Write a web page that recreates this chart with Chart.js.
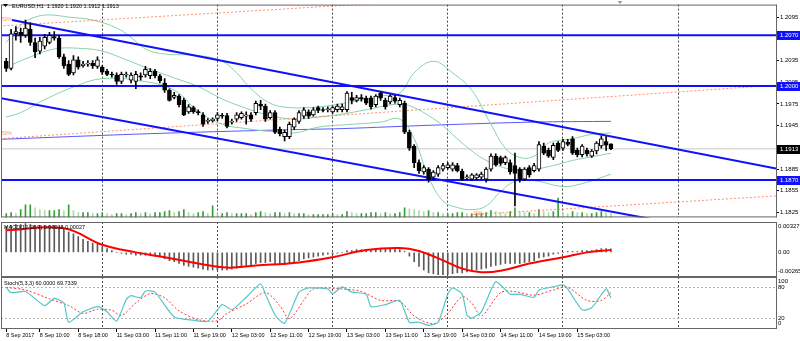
<!DOCTYPE html>
<html lang="en">
<head>
<meta charset="UTF-8">
<title>EURUSD,H1</title>
<script src="https://cdn.jsdelivr.net/npm/chart.js@4"></script>
<style>
  html, body { margin: 0; padding: 0; background: #fff; }
  #wrap { position: relative; width: 800px; height: 341px; overflow: hidden; }
  canvas { position: absolute; left: 0; }
</style>
</head>
<body>
<div id="wrap">
  <canvas id="mainChart" width="800" height="222" style="top:0"></canvas>
  <canvas id="macdChart" width="800" height="55" style="top:222px"></canvas>
  <canvas id="stochChart" width="800" height="64" style="top:277px"></canvas>
</div>
<script>
// x axis is the bar index: bar 0 = 8 Sep 03:00, one bar per hour, empty space kept on the right
const X_MIN = -1.1, X_MAX = 160.4;

const open = [
  1.2034,1.2024,1.2072,1.2074,1.2070,1.2078,1.2060,1.2048,1.2055,1.2060,
  1.2068,1.2066,1.2040,1.2030,1.2018,1.2036,1.2028,1.2030,1.2031,1.2027,
  1.2026,1.2020,1.2016,1.2015,1.2006,1.2015,1.2008,1.2006,1.2014,1.2015,
  1.2014,1.2020,1.2014,1.2004,1.1994,1.1984,1.1986,1.1980,1.1964,1.1970,
  1.1964,1.1960,1.1951,1.1952,1.1955,1.1959,1.1959,1.1950,1.1954,1.1956,
  1.1958,1.1960,1.1963,1.1975,1.1972,1.1956,1.1963,1.1940,1.1930,1.1930,
  1.1943,1.1951,1.1958,1.1964,1.1960,1.1970,1.1967,1.1967,1.1964,1.1967,
  1.1967,1.1967,1.1984,1.1980,1.1984,1.1983,1.1983,1.1974,1.1990,1.1980,
  1.1978,1.1984,1.1974,1.1976,1.1936,1.1917,1.1894,1.1881,1.1885,1.1874,
  1.1878,1.1885,1.1887,1.1885,1.1890,1.1882,1.1873,1.1871,1.1873,1.1874,
  1.1871,1.1885,1.1903,1.1901,1.1894,1.1894,1.1890,1.1885,1.1871,1.1887,
  1.1883,1.1885,1.1917,1.1911,1.1901,1.1921,1.1914,1.1922,1.1927,1.1911,
  1.1905,1.1911,1.1903,1.1910,1.1917,1.1923,1.1920
];
const high = [
  1.2038,1.2078,1.2082,1.2080,1.2091,1.2087,1.2066,1.2067,1.2071,1.2074,
  1.2075,1.2070,1.2044,1.2035,1.2042,1.2040,1.2034,1.2035,1.2035,1.2040,
  1.2028,1.2023,1.2019,1.2018,1.2019,1.2019,1.2018,1.2020,1.2018,1.2027,
  1.2024,1.2023,1.2016,1.2010,1.1996,1.1991,1.1988,1.1983,1.1974,1.1972,
  1.1967,1.1963,1.1955,1.1956,1.1963,1.1962,1.1962,1.1954,1.1963,1.1964,
  1.1964,1.1963,1.1979,1.1980,1.1975,1.1966,1.1966,1.1943,1.1939,1.1950,
  1.1956,1.1966,1.1970,1.1967,1.1970,1.1972,1.1970,1.1971,1.1972,1.1975,
  1.1975,1.1992,1.1991,1.1987,1.1988,1.1986,1.1986,1.1988,1.1992,1.1983,
  1.1988,1.1987,1.1983,1.1979,1.1939,1.1919,1.1898,1.1890,1.1887,1.1883,
  1.1890,1.1893,1.1894,1.1894,1.1893,1.1885,1.1877,1.1879,1.1879,1.1881,
  1.1887,1.1906,1.1906,1.1903,1.1903,1.1898,1.1907,1.1887,1.1887,1.1890,
  1.1893,1.1923,1.1921,1.1914,1.1921,1.1923,1.1926,1.1926,1.1930,1.1914,
  1.1919,1.1914,1.1912,1.1923,1.1931,1.1930,1.1920
];
const low = [
  1.2020,1.2022,1.2063,1.2060,1.2067,1.2056,1.2039,1.2044,1.2051,1.2058,
  1.2063,1.2038,1.2024,1.2014,1.2015,1.2023,1.2026,1.2027,1.2024,1.2024,
  1.2016,1.2014,1.2012,1.2002,1.2003,1.2012,1.2004,1.1996,1.2008,1.2012,
  1.2010,1.2011,1.2004,1.1991,1.1979,1.1982,1.1971,1.1959,1.1962,1.1962,
  1.1960,1.1944,1.1948,1.1950,1.1952,1.1955,1.1942,1.1947,1.1951,1.1954,
  1.1947,1.1951,1.1960,1.1967,1.1951,1.1954,1.1934,1.1931,1.1924,1.1927,
  1.1940,1.1948,1.1955,1.1955,1.1958,1.1963,1.1964,1.1964,1.1962,1.1964,
  1.1964,1.1964,1.1975,1.1978,1.1979,1.1974,1.1968,1.1971,1.1980,1.1968,
  1.1975,1.1976,1.1971,1.1934,1.1911,1.1887,1.1879,1.1878,1.1867,1.1870,
  1.1875,1.1882,1.1885,1.1882,1.1881,1.1869,1.1870,1.1869,1.1870,1.1871,
  1.1867,1.1882,1.1889,1.1890,1.1891,1.1878,1.1834,1.1867,1.1869,1.1874,
  1.1881,1.1882,1.1905,1.1901,1.1898,1.1909,1.1911,1.1917,1.1905,1.1902,
  1.1902,1.1903,1.1901,1.1906,1.1914,1.1911,1.1912
];
const close = [
  1.2024,1.2072,1.2075,1.2070,1.2080,1.2060,1.2047,1.2062,1.2067,1.2070,
  1.2066,1.2040,1.2028,1.2016,1.2036,1.2026,1.2030,1.2031,1.2028,1.2036,
  1.2019,1.2016,1.2015,1.2006,1.2016,1.2016,1.2015,1.2016,1.2012,1.2023,
  1.2020,1.2014,1.2007,1.1994,1.1980,1.1987,1.1974,1.1960,1.1971,1.1964,
  1.1963,1.1947,1.1952,1.1954,1.1960,1.1958,1.1944,1.1951,1.1960,1.1962,
  1.1960,1.1954,1.1976,1.1972,1.1954,1.1963,1.1936,1.1934,1.1936,1.1947,
  1.1954,1.1963,1.1967,1.1958,1.1967,1.1966,1.1966,1.1968,1.1970,1.1972,
  1.1971,1.1990,1.1980,1.1984,1.1982,1.1976,1.1971,1.1986,1.1983,1.1971,
  1.1986,1.1979,1.1980,1.1936,1.1914,1.1894,1.1883,1.1887,1.1870,1.1881,
  1.1887,1.1890,1.1891,1.1891,1.1883,1.1871,1.1874,1.1877,1.1877,1.1878,
  1.1885,1.1903,1.1891,1.1893,1.1901,1.1881,1.1879,1.1870,1.1885,1.1877,
  1.1890,1.1919,1.1907,1.1903,1.1918,1.1911,1.1923,1.1919,1.1907,1.1905,
  1.1917,1.1906,1.1910,1.1921,1.1927,1.1918,1.1913
];
const volume = [
  1600,2000,1600,3200,5200,5200,4000,3200,2800,2800,
  2800,3200,2800,5200,2800,2000,2000,2000,1600,1600,
  2000,1600,1200,1600,1600,1200,1600,2000,1600,2000,
  1600,2000,2000,2400,2800,2000,2400,3200,2000,1600,
  2000,2400,1600,4800,1600,1600,2000,1600,1600,1600,
  1600,1200,2000,2400,2000,1600,2000,2000,1600,2000,
  1600,1600,1600,1200,1200,1200,1200,1200,1600,1200,
  1200,2400,2000,1600,1600,1600,2000,2000,1600,2000,
  1600,1600,2000,4000,3600,3200,2800,2400,2800,2000,
  2000,1600,1600,1600,2000,2000,1600,1600,1600,1600,
  2000,2800,2400,2000,1600,2400,4000,2400,2000,2000,
  1600,3200,2400,2000,2400,8000,2000,1600,2400,2000,
  2000,1600,1600,2000,2400,2000,1600
];

// Bollinger bands (20) and the slow moving average, sampled along the bars
const bbUpperBars = [0,3,6,9,13,18,23,26,29,33,40,45,48,51,55,59,65,72,78,82,85,89,93,97,101,104,107,110,113,118,122,126];
const bbUpper = [1.2060,1.2084,1.2095,1.2098,1.2095,1.2091,1.2080,1.2067,1.2051,1.2044,1.2042,1.2034,1.2018,1.1996,1.1976,1.1970,1.1971,1.1978,1.1986,1.1990,1.2018,1.2034,1.2018,1.1994,1.1947,1.1914,1.1901,1.1903,1.1921,1.1927,1.1933,1.1935];
const bbMidBars = [0,5,10,15,20,25,30,35,40,45,50,55,60,65,70,75,82,85,88,91,95,100,105,110,114,118,122,126];
const bbMid = [1.2026,1.2040,1.2051,1.2052,1.2048,1.2036,1.2023,1.2011,1.1999,1.1982,1.1969,1.1959,1.1954,1.1957,1.1961,1.1967,1.1975,1.1970,1.1959,1.1945,1.1921,1.1897,1.1885,1.1885,1.1890,1.1897,1.1902,1.1907];
const bbLowBars = [0,3,8,15,20,28,35,40,45,50,55,60,65,70,78,82,85,88,91,94,97,100,103,106,110,116,120,126];
const bbLow = [1.1957,1.1963,1.1981,1.2001,1.2010,1.2007,1.1994,1.1965,1.1947,1.1941,1.1937,1.1935,1.1943,1.1946,1.1950,1.1954,1.1927,1.1874,1.1841,1.1832,1.1829,1.1834,1.1854,1.1868,1.1869,1.1861,1.1865,1.1878];
const maBars = [-2,30,56,70,90,110,126];
const ma = [1.1926,1.1934,1.1939,1.1941,1.1946,1.1950,1.1951];

// drawn objects
const levels = [1.2070, 1.2000, 1.1870];
const lastPrice = 1.1913;
const channelUpper = [[1.2, 1.2091], [160.4, 1.1886]];
const channelLower = [[-1.1, 1.1983], [160.4, 1.1784]];
const fanLines = [
  [[-0.6, 1.2083], [160.4, 1.2147]],
  [[-1.3, 1.1927], [160.4, 1.2001]],
  [[96.7, 1.1822], [160.4, 1.1848]]
];
const priceTicks = [1.1825, 1.1855, 1.1885, 1.1915, 1.1945, 1.1975, 1.2005, 1.2035, 1.2065, 1.2095];

// MACD(12,26,9)
const macdHist = [
  0.0028,0.0029,0.0030,0.0030,0.0031,0.0030,0.0029,0.0029,0.0029,0.0029,
  0.0029,0.0027,0.0025,0.0022,0.0020,0.0017,0.0014,0.0012,0.0010,0.0009,
  0.0006,0.0004,0.0002,0.0000,-0.0001,-0.0002,-0.0002,-0.0003,-0.0003,-0.0003,
  -0.0003,-0.0004,-0.0005,-0.0007,-0.0009,-0.0010,-0.0012,-0.0014,-0.0015,-0.0016,
  -0.0017,-0.0018,-0.0019,-0.0019,-0.0019,-0.0019,-0.0019,-0.0018,-0.0017,-0.0016,
  -0.0015,-0.0014,-0.0012,-0.0011,-0.0011,-0.0010,-0.0012,-0.0013,-0.0013,-0.0012,
  -0.0010,-0.0009,-0.0007,-0.0006,-0.0005,-0.0004,-0.0003,-0.0002,-0.0002,-0.0001,
  0.0000,0.0002,0.0002,0.0003,0.0003,0.0003,0.0003,0.0004,0.0004,0.0004,
  0.0004,0.0004,0.0003,0.0001,-0.0004,-0.0010,-0.0015,-0.0019,-0.0022,-0.0023,
  -0.0024,-0.0024,-0.0024,-0.0023,-0.0022,-0.0022,-0.0021,-0.0020,-0.0019,-0.0018,
  -0.0017,-0.0015,-0.0014,-0.0013,-0.0012,-0.0012,-0.0012,-0.0012,-0.0011,-0.0010,
  -0.0009,-0.0006,-0.0005,-0.0004,-0.0002,-0.0001,0.0000,0.0001,0.0001,0.0001,
  0.0002,0.0002,0.0002,0.0003,0.0004,0.0004,0.00038
];
const macdSignalBars = [0,12,20,27,33,40,46,52,61,68,75,82,86,91,95,99,103,109,116,121,126];
const macdSignal = [0.00238,0.0026,0.00082,0,-0.00052,-0.0012,-0.00164,-0.00142,-0.00108,-0.00052,0.00026,0.00048,0.00015,-0.00086,-0.00175,-0.00214,-0.00198,-0.0012,-0.00052,0,0.00027];

// Stochastic(5,3,3)
const stochBars = [0,1,4,8,10,12,13,16,19,21,23,25,26,28,29,31,35,39,42,45,47,50,53,54,56,58,61,63,67,68,70,72,75,76,79,82,84,86,88,90,92,93,95,96,97,99,102,105,107,110,111,114,116,117,120,122,125,126];
const stochMain = [80,70,72,45,59,50,13,33,43,33,15,57,64,60,73,71,23,17,15,47,37,61,87,67,27,11,71,79,77,68,81,71,67,43,47,55,13,13,7,13,67,79,67,27,21,33,91,67,67,61,75,81,85,77,37,41,77,60];
const stochSigBars = [0,4,9,13,16,19,22,24,27,30,33,36,40,44,46,50,54,57,59,62,64,70,74,78,82,85,89,92,95,97,99,103,106,110,114,117,121,124,126];
const stochSignal = [80,75,58,45,30,38,36,26,50,68,60,35,18,16,30,48,70,45,20,55,77,77,72,55,53,25,10,30,62,50,25,70,72,65,75,80,55,55,69.7339];

const gridBars = [20, 44, 68, 92, 116, 140];
const labelBars = [0, 7, 15, 23, 31, 39, 47, 55, 63, 71, 79, 87, 95, 103, 111, 119];
const labelText = ['8 Sep 2017','8 Sep 10:00','8 Sep 18:00','11 Sep 03:00','11 Sep 11:00','11 Sep 19:00',
  '12 Sep 03:00','12 Sep 11:00','12 Sep 19:00','13 Sep 03:00','13 Sep 11:00','13 Sep 19:00',
  '14 Sep 03:00','14 Sep 11:00','14 Sep 19:00','15 Sep 03:00'];

const FONT = '"Liberation Sans", Arial, sans-serif';
Chart.defaults.font.family = FONT;
Chart.defaults.font.size = 6;
Chart.defaults.color = '#000';

const bars = close.map((_, i) => i);
const pts = (xs, ys) => xs.map((x, i) => ({x: x, y: ys[i]}));
const seg = s => s.map(p => ({x: p[0], y: p[1]}));

function line(data, color, width, extra) {
  return Object.assign({type: 'line', data: data, borderColor: color, borderWidth: width,
    pointRadius: 0, fill: false, tension: 0, clip: 0}, extra || {});
}
function barSet(data, color, thickness, extra) {
  return Object.assign({type: 'bar', data: data, backgroundColor: color, grouped: false,
    categoryPercentage: 1, barPercentage: 1, maxBarThickness: thickness, borderWidth: 0}, extra || {});
}

// shared x scale: dashed day separators only
function gridX() {
  return {
    type: 'linear', min: X_MIN, max: X_MAX, offset: false,
    afterBuildTicks: s => { s.ticks = gridBars.map(v => ({value: v})); },
    afterFit: s => { s.height = 0; },
    ticks: {display: false},
    grid: {color: '#4a4a4a', lineWidth: 1, drawTicks: false, offset: false},
    border: {display: false, dash: [2, 2]}
  };
}

// frame, side labels, price boxes and captions of each pane
const panePlugin = {
  id: 'pane',
  afterDraw(chart, args, opts) {
    const {ctx, chartArea: a} = chart;
    const ys = chart.scales.y;
    ctx.save();
    ctx.fillStyle = '#666';
    ctx.fillRect(a.left, a.top, a.right - a.left + 1, 1);
    ctx.fillRect(a.left, a.bottom - 1, a.right - a.left + 1, 1);
    ctx.fillRect(a.left, a.top, 1, a.bottom - a.top);
    ctx.fillRect(a.right, a.top, 1, a.bottom - a.top);

    ctx.textBaseline = 'middle';
    ctx.textAlign = 'left';
    (opts.side || []).forEach(s => {
      const py = ys.getPixelForValue(s.value);
      ctx.fillStyle = '#000';
      ctx.font = '6px ' + FONT;
      ctx.fillText(s.text, a.right + 2, Math.min(Math.max(py, a.top + 4.5), a.bottom - 5.5));
    });
    (opts.boxes || []).forEach(b => {
      const py = Math.round(ys.getPixelForValue(b.value));
      ctx.fillStyle = b.color;
      ctx.fillRect(a.right + 1, py - 4, 23, 9);
      ctx.fillStyle = '#fff';
      ctx.font = '6px ' + FONT;
      ctx.fillText(b.value.toFixed(4), a.right + 4, py + 0.5);
    });
    (opts.notes || []).forEach(n => {
      ctx.fillStyle = n.color || '#000';
      ctx.font = (n.size || 5.5) + 'px ' + FONT;
      ctx.fillText(n.text, n.x, n.y);
    });
    (opts.marks || []).forEach(m => {
      ctx.fillStyle = m.color;
      ctx.beginPath();
      ctx.moveTo(m.x - 2.5, m.y);
      ctx.lineTo(m.x + 2.5, m.y);
      ctx.lineTo(m.x, m.y + 3);
      ctx.closePath();
      ctx.fill();
    });
    ctx.restore();
  }
};

const baseOptions = {
  responsive: false,
  animation: false,
  devicePixelRatio: 1,
  events: [],
  plugins: {legend: {display: false}, tooltip: {enabled: false}}
};

// ---- price window ----
const BLUE = '#1010ff';
const FAN = 'rgba(255,110,60,0.75)';
const GREEN_BAND = '#86d3a5';

const mainDatasets = [
  barSet(bars.map(i => ({x: i, y: [open[i], close[i]]})), bars.map(i => close[i] >= open[i] ? '#fff' : '#000'), 4,
    {borderColor: '#000', borderWidth: 1, borderSkipped: false, minBarLength: 1, order: 0}),
  barSet(bars.map(i => ({x: i, y: [low[i], high[i]]})), '#000', 1, {order: 1}),
  line(seg(channelUpper), BLUE, 2, {order: 2}),
  line(seg(channelLower), BLUE, 2, {order: 2}),
  ...levels.map(v => line([{x: X_MIN, y: v}, {x: X_MAX, y: v}], BLUE, 2, {order: 2})),
  ...fanLines.map(f => line(seg(f), FAN, 1, {borderDash: [2, 2], order: 3})),
  line(pts(bbUpperBars, bbUpper), GREEN_BAND, 1, {tension: 0.4, order: 4}),
  line(pts(bbMidBars, bbMid), GREEN_BAND, 1, {tension: 0.4, order: 4}),
  line(pts(bbLowBars, bbLow), GREEN_BAND, 1, {tension: 0.4, order: 4}),
  line(pts(maBars, ma), 'rgba(60,60,255,0.85)', 1, {tension: 0.3, order: 4}),
  line([{x: X_MIN, y: lastPrice}, {x: X_MAX, y: lastPrice}], '#c8c8c8', 1, {order: 6}),
  barSet(bars.map(i => ({x: i, y: volume[i]})),
    bars.map(i => (i > 0 && volume[i] < volume[i - 1]) ? '#a9dca9' : '#33a033'), 1, {yAxisID: 'yv', order: 8})
];

new Chart(document.getElementById('mainChart'), {
  data: {datasets: mainDatasets},
  options: Object.assign({}, baseOptions, {
    layout: {padding: {top: 1, left: 1, right: 0, bottom: 0}},
    scales: {
      x: gridX(),
      y: {
        position: 'right', min: 1.18183, max: 1.21123,
        afterBuildTicks: s => { s.ticks = priceTicks.map(v => ({value: v})); },
        afterFit: s => { s.width = 24; },
        ticks: {padding: 1, font: {size: 6}, color: '#000', callback: v => v.toFixed(4)},
        grid: {drawOnChartArea: false, drawTicks: true, tickLength: 3, tickColor: '#000'},
        border: {display: false}
      },
      yv: {display: false, min: 0, max: 88400}
    },
    plugins: Object.assign({}, baseOptions.plugins, {
      pane: {
        boxes: [
          {value: 1.2070, color: BLUE}, {value: 1.2000, color: BLUE},
          {value: 1.1870, color: BLUE}, {value: lastPrice, color: '#000'}
        ],
        notes: [
          {text: 'EURUSD,H1  1.1920 1.1920 1.1912 1.1913', x: 12, y: 6},
          {text: '50%', x: 2, y: 20, color: FAN, size: 5},
          {text: '50%', x: 2, y: 134, color: FAN, size: 5},
          {text: '30%', x: 473, y: 214, color: FAN, size: 5}
        ],
        marks: [{x: 5.5, y: 4, color: '#000'}, {x: 620, y: 1, color: '#999'}]
      }
    })
  }),
  plugins: [panePlugin]
});

// ---- MACD window ----
new Chart(document.getElementById('macdChart'), {
  data: {datasets: [
    line(pts(macdSignalBars, macdSignal), '#ff0000', 2, {tension: 0.4, order: 0}),
    barSet(bars.map(i => ({x: i, y: macdHist[i]})), '#5a5a5a', 1, {order: 1})
  ]},
  options: Object.assign({}, baseOptions, {
    layout: {padding: {top: 0, left: 1, right: 0, bottom: 0}},
    scales: {
      x: gridX(),
      y: {
        position: 'right', min: -0.00265, max: 0.00327,
        afterFit: s => { s.width = 24; },
        ticks: {display: false},
        grid: {drawOnChartArea: false, drawTicks: false},
        border: {display: false}
      }
    },
    plugins: Object.assign({}, baseOptions.plugins, {
      pane: {
        side: [{value: 0.00327, text: '0.00327'}, {value: 0, text: '0.00'}, {value: -0.00265, text: '-0.00265'}],
        notes: [{text: 'MACD(12,26,9) 0.00038 0.00027', x: 4, y: 5}]
      }
    })
  }),
  plugins: [panePlugin]
});

// ---- Stochastic window with the time axis ----
new Chart(document.getElementById('stochChart'), {
  data: {datasets: [
    line(pts(stochBars, stochMain), '#52c6c6', 1.2, {tension: 0.2, xAxisID: 'x', order: 0}),
    line(pts(stochSigBars, stochSignal), '#ff3030', 1, {tension: 0.3, borderDash: [2, 2], xAxisID: 'x', order: 1})
  ]},
  options: Object.assign({}, baseOptions, {
    layout: {padding: {top: 0, left: 1, right: 0, bottom: 0}},
    scales: {
      x: gridX(),
      xl: {
        type: 'linear', position: 'bottom', min: X_MIN, max: X_MAX, offset: false,
        afterBuildTicks: s => { s.ticks = labelBars.map(v => ({value: v})); },
        afterFit: s => { s.height = 12; },
        ticks: {align: 'start', autoSkip: false, maxRotation: 0, padding: 0, font: {size: 5.5}, color: '#000',
          callback: (v, i) => labelText[i]},
        grid: {drawOnChartArea: false, drawTicks: true, tickLength: 3, tickColor: '#000'},
        border: {display: false}
      },
      y: {
        position: 'right', min: 0, max: 100,
        afterBuildTicks: s => { s.ticks = [{value: 20}, {value: 80}]; },
        afterFit: s => { s.width = 24; },
        ticks: {display: false},
        grid: {color: '#b4b4b4', drawTicks: false},
        border: {display: false, dash: [2, 2]}
      }
    },
    plugins: Object.assign({}, baseOptions.plugins, {
      pane: {
        side: [{value: 100, text: '100'}, {value: 80, text: '80'}, {value: 20, text: '20'}, {value: 0, text: '0'}],
        notes: [{text: 'Stoch(5,3,3) 60.0000 69.7339', x: 4, y: 6}]
      }
    })
  }),
  plugins: [panePlugin]
});
</script>
</body>
</html>
